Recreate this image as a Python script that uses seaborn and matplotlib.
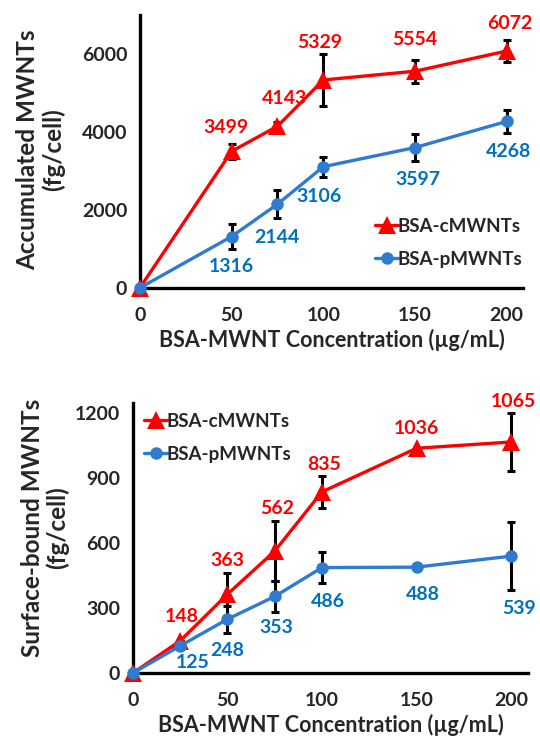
import matplotlib
matplotlib.use("Agg")

import matplotlib.pyplot as plt
import numpy as np
import pandas as pd
import seaborn as sns
from matplotlib.ticker import MultipleLocator

# ── Data ───────────────────────────────────────────────────────
conc_top = [0, 50, 75, 100, 150, 200]
acc_c = [0, 3499, 4143, 5329, 5554, 6072]
acc_c_err = [0, 200, 100, 670, 300, 280]
acc_p = [0, 1316, 2144, 3106, 3597, 4268]
acc_p_err = [0, 320, 360, 260, 340, 290]

conc_bot = [0, 25, 50, 75, 100, 150, 200]
surf_c = [0, 148, 363, 562, 835, 1036, 1065]
surf_c_err = [0, 0, 98, 139, 75, 0, 133]
surf_p = [0, 125, 248, 353, 486, 488, 539]
surf_p_err = [0, 0, 63, 70, 70, 0, 155]

series_names = ["BSA-cMWNTs", "BSA-pMWNTs"]
x_label = "BSA-MWNT Concentration (µg/mL)"
y_label_top = "Accumulated MWNTs\n(fg/cell)"
y_label_bot = "Surface-bound MWNTs\n(fg/cell)"

# label offsets in pixels (dx, dy), one per point
off_top_c = [None, (-6, 24), (7, 28), (-4, 37), (0, 32), (3, 27)]
off_top_p = [None, (0, -30), (-1, -33), (-4, -30), (3, -32), (2, -30)]
off_bot_c = [None, (2, 24), (0, 34), (2, 43), (2, 27), (0, 20), (2, 40)]
off_bot_p = [None, (13, -17), (0, -31), (2, -31), (6, -34), (6, -27), (8, -52)]

RED = "#FF0000"
BLUE_LINE = "#2E7BCF"
BLUE_TEXT = "#0070C0"
FONT = ["Lato", "DejaVu Sans"]
MARKER_SIZES = [13, 9]

sns.set_style("white")
plt.rcParams["font.family"] = FONT
plt.rcParams["font.weight"] = "bold"

fig = plt.figure(figsize=(5.4, 7.4), dpi=100)
ax_top = fig.add_axes([0.259, 0.611, 0.710, 0.369])
ax_bot = fig.add_axes([0.246, 0.0905, 0.732, 0.365])


def draw_panel(ax, conc, yc, yc_err, yp, yp_err, offs_c, offs_p):
    df = pd.DataFrame({
        "conc": list(conc) * 2,
        "value": list(yc) + list(yp),
        "series": [series_names[0]] * len(conc) + [series_names[1]] * len(conc),
    })
    sns.lineplot(
        data=df, x="conc", y="value", hue="series", style="series",
        palette={series_names[0]: RED, series_names[1]: BLUE_LINE},
        markers={series_names[0]: "^", series_names[1]: "o"},
        dashes=False, linewidth=2.4, markeredgewidth=0, ax=ax,
        clip_on=False, zorder=3,
    )
    for ln, ms in zip(ax.get_lines(), MARKER_SIZES):
        ln.set_markersize(ms)

    ax.errorbar(conc, yc, yerr=yc_err, fmt="none", ecolor="black",
                elinewidth=2.2, capsize=3, capthick=2.2, zorder=2)
    ax.errorbar(conc, yp, yerr=yp_err, fmt="none", ecolor="black",
                elinewidth=2.2, capsize=3, capthick=2.2, zorder=2)

    k = 0.72  # px -> pt at 100 dpi
    for x, y, off in zip(conc, yc, offs_c):
        if off is None:
            continue
        ax.annotate(f"{y}", (x, y), xytext=(off[0] * k, off[1] * k),
                    textcoords="offset points", ha="center", va="center",
                    color=RED, fontsize=14, fontweight="bold")
    for x, y, off in zip(conc, yp, offs_p):
        if off is None:
            continue
        ax.annotate(f"{y}", (x, y), xytext=(off[0] * k, off[1] * k),
                    textcoords="offset points", ha="center", va="center",
                    color=BLUE_TEXT, fontsize=14, fontweight="bold")

    ax.set_xlim(0, 209)
    ax.xaxis.set_major_locator(MultipleLocator(50))
    ax.xaxis.set_minor_locator(MultipleLocator(25))
    ax.set_xlabel(x_label, fontsize=15.5, fontweight="bold", labelpad=3)
    sns.despine(ax=ax)
    for side in ["left", "bottom"]:
        ax.spines[side].set_color("black")
        ax.spines[side].set_linewidth(2.4)
    ax.tick_params(which="both", direction="inout", length=8, width=2,
                   color="black", labelsize=14)
    ax.tick_params(axis="x", which="major", pad=10)
    ax.tick_params(axis="y", which="major", pad=5)


draw_panel(ax_top, conc_top, acc_c, acc_c_err, acc_p, acc_p_err,
           off_top_c, off_top_p)
ax_top.set_ylim(0, 7000)
ax_top.yaxis.set_major_locator(MultipleLocator(2000))
ax_top.yaxis.set_minor_locator(MultipleLocator(1000))
ax_top.set_ylabel(y_label_top, fontsize=17.5, fontweight="bold",
                  multialignment="center", linespacing=1.1)
ax_top.yaxis.set_label_coords(-0.196, 0.505)

draw_panel(ax_bot, conc_bot, surf_c, surf_c_err, surf_p, surf_p_err,
           off_bot_c, off_bot_p)
ax_bot.set_ylim(0, 1245)
ax_bot.yaxis.set_major_locator(MultipleLocator(300))
ax_bot.yaxis.set_minor_locator(MultipleLocator(100))
ax_bot.set_ylabel(y_label_bot, fontsize=17.5, fontweight="bold",
                  multialignment="center", linespacing=1.1)
ax_bot.yaxis.set_label_coords(-0.16, 0.537)

for ax in (ax_top, ax_bot):
    for lab in ax.get_xticklabels() + ax.get_yticklabels():
        lab.set_fontweight("bold")

legend_kw = dict(bbox_transform=fig.transFigure, frameon=False,
                 handlelength=1.2, handletextpad=0.0, labelspacing=0.85,
                 borderpad=0, prop={"size": 13.5, "weight": "bold"})
leg_top = ax_top.legend(loc="upper left", bbox_to_anchor=(0.678, 0.718),
                        **legend_kw)
leg_bot = ax_bot.legend(loc="upper left", bbox_to_anchor=(0.25, 0.455),
                        **legend_kw)
for leg in (leg_top, leg_bot):
    for h, ms in zip(leg.legend_handles, MARKER_SIZES):
        h.set_markersize(ms)
        h.set_linewidth(2.4)

fig.savefig("out.png", dpi=100)
plt.close(fig)
